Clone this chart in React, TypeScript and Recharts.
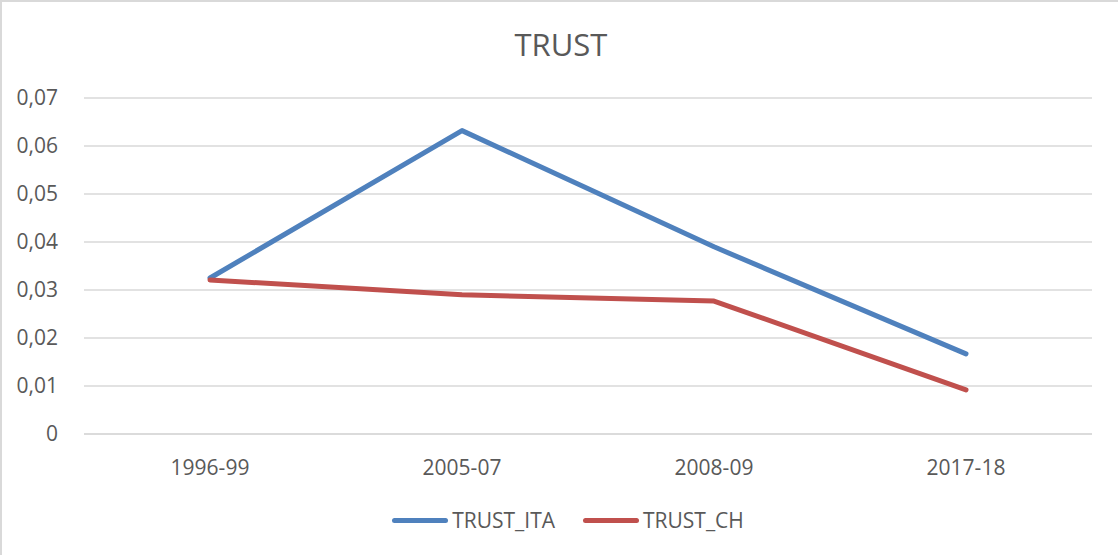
import React from "react"
import { CartesianGrid, Line, LineChart, XAxis, YAxis } from "recharts"

const periods = ["1996-99", "2005-07", "2008-09", "2017-18"]
const trustIta = [0.0325, 0.0632, 0.039, 0.0167]
const trustCh = [0.0321, 0.029, 0.0277, 0.0092]
const yTicks = [0, 0.01, 0.02, 0.03, 0.04, 0.05, 0.06, 0.07]

const series = [
  { key: "TRUST_ITA", values: trustIta, color: "#4F81BD" },
  { key: "TRUST_CH", values: trustCh, color: "#C0504D" },
]

const data = periods.map((period, i) => ({
  period,
  TRUST_ITA: trustIta[i],
  TRUST_CH: trustCh[i],
}))

const font = "'Open Sans', sans-serif"
const textColor = "#595959"

const fmt = (v: number) => (v === 0 ? "0" : v.toFixed(2).replace(".", ","))

export default function App() {
  return (
    <div
      style={{
        position: "absolute",
        left: 0,
        top: 0,
        width: 1118,
        height: 555,
        background: "#fff",
        fontFamily: font,
        borderTop: "2px solid #d9d9d9",
        borderLeft: "2px solid #d9d9d9",
        boxSizing: "border-box",
      }}
    >
      <div
        style={{
          position: "absolute",
          left: 0,
          top: 22,
          width: 1118,
          textAlign: "center",
          fontSize: 31,
          color: textColor,
          lineHeight: "40px",
        }}
      >
        TRUST
      </div>
      <div style={{ position: "absolute", left: -2, top: -2 }}>
        <LineChart
          width={1118}
          height={555}
          data={data}
          margin={{ top: 98, right: 26, bottom: 81, left: 0 }}
        >
          <CartesianGrid vertical={false} stroke="#d9d9d9" strokeWidth={1.5} />
          <XAxis
            dataKey="period"
            padding={{ left: 126, right: 126 }}
            axisLine={{ stroke: "#d9d9d9", strokeWidth: 1.5 }}
            tickLine={false}
            height={40}
            tickMargin={20}
            tick={{ fill: textColor, fontSize: 21, fontFamily: font }}
          />
          <YAxis
            domain={[0, 0.07]}
            ticks={yTicks}
            tickFormatter={fmt}
            axisLine={false}
            tickLine={false}
            width={84}
            tickMargin={20}
            tick={{ fill: textColor, fontSize: 21, fontFamily: font }}
          />
          {series.map((s) => (
            <Line
              key={s.key}
              dataKey={s.key}
              stroke={s.color}
              strokeWidth={5}
              strokeLinecap="round"
              strokeLinejoin="round"
              dot={false}
              activeDot={false}
              isAnimationActive={false}
            />
          ))}
        </LineChart>
      </div>
      <div
        style={{
          position: "absolute",
          left: 0,
          top: 503,
          width: 1118,
          display: "flex",
          justifyContent: "center",
          gap: 28,
          paddingLeft: 14,
          boxSizing: "border-box",
        }}
      >
        {series.map((s) => (
          <div key={s.key} style={{ display: "flex", alignItems: "center" }}>
            <div
              style={{
                width: 56,
                height: 5,
                borderRadius: 3,
                background: s.color,
                marginRight: 4,
              }}
            />
            <span style={{ fontSize: 21, color: textColor, lineHeight: "30px" }}>
              {s.key}
            </span>
          </div>
        ))}
      </div>
    </div>
  )
}
